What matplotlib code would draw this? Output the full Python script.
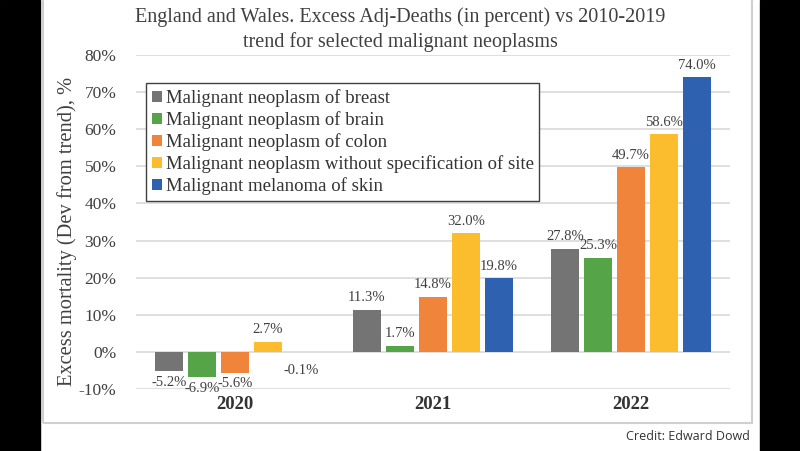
import matplotlib
matplotlib.use("Agg")
import matplotlib.pyplot as plt
import numpy as np
from matplotlib.patches import Rectangle

years = ["2020", "2021", "2022"]
series = [
    "Malignant neoplasm of breast",
    "Malignant neoplasm of brain",
    "Malignant neoplasm of colon",
    "Malignant neoplasm without specification of site",
    "Malignant melanoma of skin",
]
breast = [-5.2, 11.3, 27.8]
brain = [-6.9, 1.7, 25.3]
colon = [-5.6, 14.8, 49.7]
unspecified = [2.7, 32.0, 58.6]
melanoma = [-0.1, 19.8, 74.0]
colors = ["#747474", "#55a447", "#f0843a", "#fbbd2e", "#2e62b0"]

plt.rcParams["font.family"] = ["Liberation Serif", "DejaVu Serif"]

fig = plt.figure(figsize=(8, 4.51), dpi=100)
fig.patch.set_facecolor("white")

# black side bands + thin grey frame like the screenshot
fig.add_artist(Rectangle((0, 0), 40 / 800, 1, transform=fig.transFigure, color="black", zorder=-5))
fig.add_artist(Rectangle((760 / 800, 0), 40 / 800, 1, transform=fig.transFigure, color="black", zorder=-5))
fig.add_artist(Rectangle((43 / 800, 1 - 423 / 451), (752 - 43) / 800, 423 / 451 + 0.01,
                         transform=fig.transFigure, fill=False, edgecolor="#cfcfcf", lw=1.5))

ax = fig.add_axes([136 / 800, 1 - 389 / 451, (730 - 136) / 800, (389 - 55) / 451])

x = np.arange(len(years))
step = 1 / 6
width = step * 0.82
data = [breast, brain, colon, unspecified, melanoma]
for i, (name, vals, c) in enumerate(zip(series, data, colors)):
    pos = x + (i - 2) * step
    ax.bar(pos, vals, width, color=c, label=name, zorder=3)
    for p, v in zip(pos, vals):
        if v >= 0:
            ax.text(p, v + 1.5, f"{v:.1f}%", ha="center", va="bottom", fontsize=10.5, color="#404040")
        else:
            ax.text(p, min(v, -2) - 1.3, f"{v:.1f}%", ha="center", va="top", fontsize=10.5, color="#404040")

ax.set_xlim(-0.5, 2.5)
ax.set_ylim(-10, 80)
ax.set_yticks(np.arange(-10, 81, 10))
ax.set_yticklabels([f"{t}%" for t in range(-10, 81, 10)], fontsize=12.5, color="#404040")
ax.set_xticks(x)
ax.set_xticklabels(years, fontsize=13.5, fontweight="bold", color="#333333")
ax.tick_params(axis="both", length=0)
ax.tick_params(axis="y", pad=14)
ax.tick_params(axis="x", pad=5)
for s in ax.spines.values():
    s.set_visible(False)
ax.grid(axis="y", color="#d9d9d9", lw=1.2, zorder=0)
ax.set_ylabel("Excess mortality (Dev from trend), %", fontsize=14.8, color="#404040")
ax.yaxis.set_label_coords(-0.099, 0.473)

leg = ax.legend(loc="upper left", bbox_to_anchor=(0.017, 0.915), fontsize=13.5, frameon=True,
                fancybox=False, edgecolor="#404040", framealpha=1, borderpad=0.3,
                handlelength=0.55, handleheight=0.55, handletextpad=0.2, labelspacing=0.22,
                borderaxespad=0)
leg.get_frame().set_linewidth(1.0)
for t in leg.get_texts():
    t.set_color("#333333")

fig.text(0.5, 1 - 17 / 451, "England and Wales. Excess Adj-Deaths (in percent) vs 2010-2019",
         ha="center", va="center", fontsize=14.5, color="#404040")
fig.text(0.5, 1 - 42 / 451, "trend for selected malignant neoplasms",
         ha="center", va="center", fontsize=14.5, color="#404040")
fig.text(750 / 800, 1 - 437 / 451, "Credit: Edward Dowd", ha="right", va="center",
         fontsize=9, color="#333333", family=["Open Sans", "DejaVu Sans"])

fig.savefig("out.png", dpi=100)
